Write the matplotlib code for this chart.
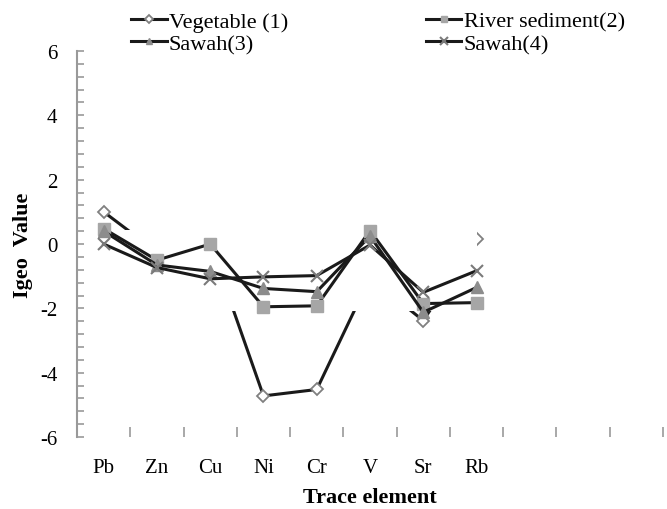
import matplotlib.pyplot as plt
import matplotlib.patches as mpatches
from matplotlib.ticker import MultipleLocator
import numpy as np

plt.rcParams['font.family'] = ['Liberation Serif', 'DejaVu Serif']
plt.rcParams['axes.unicode_minus'] = False

# data
elements = ['Pb', 'Zn', 'Cu', 'Ni', 'Cr', 'V', 'Sr', 'Rb']
n_slots = 11  # axis has three empty category slots after Rb

vegetable = [1.0, -0.25, 0.0, -4.72, -4.52, -1.05, -2.38, 0.15]
river_sediment = [0.48, -0.5, 0.0, -1.95, -1.92, 0.42, -1.85, -1.82]
sawah3 = [0.4, -0.65, -0.85, -1.38, -1.48, 0.25, -2.12, -1.35]
sawah4 = [0.0, -0.73, -1.08, -1.02, -0.98, -0.03, -1.5, -0.83]

x = np.arange(len(elements))
line_c = '#1a1a1a'

fig = plt.figure(figsize=(6.67, 5.10), dpi=100)
ax = fig.add_axes([0.1155, 0.141, 0.8785, 0.757])

l1, = ax.plot(x, vegetable, color=line_c, lw=2.2, marker='D', ms=6.5, mfc='white',
              mec='#808080', mew=1.3, label='Vegetable (1)', zorder=2)
# white band in the original hides parts of the vegetable line
ax.add_patch(mpatches.Rectangle((0.3, -2.08), 6.7, 2.51, fc='white', ec='none', zorder=2.5))
l2, = ax.plot(x, river_sediment, color=line_c, lw=2.2, marker='s', ms=8, mfc='#a6a6a6',
              mec='#a6a6a6', label='River sediment(2)', zorder=3)
l3, = ax.plot(x, sawah3, color=line_c, lw=2.2, marker='^', ms=8, mfc='#8c8c8c',
              mec='#8c8c8c', label='Sawah(3)', zorder=4)
l4, = ax.plot(x, sawah4, color=line_c, lw=2.2, marker='x', ms=9, mec='#7a7a7a',
              mew=1.5, label='Sawah(4)', zorder=5)

ax.set_xlim(-0.5, n_slots - 0.5)
ax.set_ylim(-6, 6)
ax.yaxis.set_major_locator(MultipleLocator(2))
ax.yaxis.set_minor_locator(MultipleLocator(0.4))
ax.tick_params(axis='y', which='both', direction='in', length=5, width=1.2,
               color='#999999', labelsize=15, pad=14)

ax.set_xticks(np.arange(-0.5, n_slots, 1))
ax.set_xticklabels([])
ax.set_xticks(x, minor=True)
ax.set_xticklabels(elements, minor=True)
ax.tick_params(axis='x', which='major', direction='in', length=7, width=1.2, color='#999999')
ax.tick_params(axis='x', which='minor', length=0, labelsize=15, pad=15)

for s in ['top', 'right', 'bottom']:
    ax.spines[s].set_visible(False)
ax.spines['left'].set_color('#999999')
ax.spines['left'].set_linewidth(1.5)

ax.set_xlabel('Trace element', fontsize=16, fontweight='bold', labelpad=7)
ax.set_ylabel('Igeo  Value', fontsize=16, fontweight='bold', labelpad=5)

# row-major order like the original legend
fig.legend([l1, l3, l2, l4], [l1.get_label(), l3.get_label(), l2.get_label(), l4.get_label()],
           loc='upper left', bbox_to_anchor=(0.178, 1.0), ncol=2, frameon=False,
           fontsize=16, handlelength=1.6, handletextpad=0.1, columnspacing=6.2,
           labelspacing=0.08, borderaxespad=0.15, markerscale=0.6)

fig.savefig('out.png', dpi=100)
